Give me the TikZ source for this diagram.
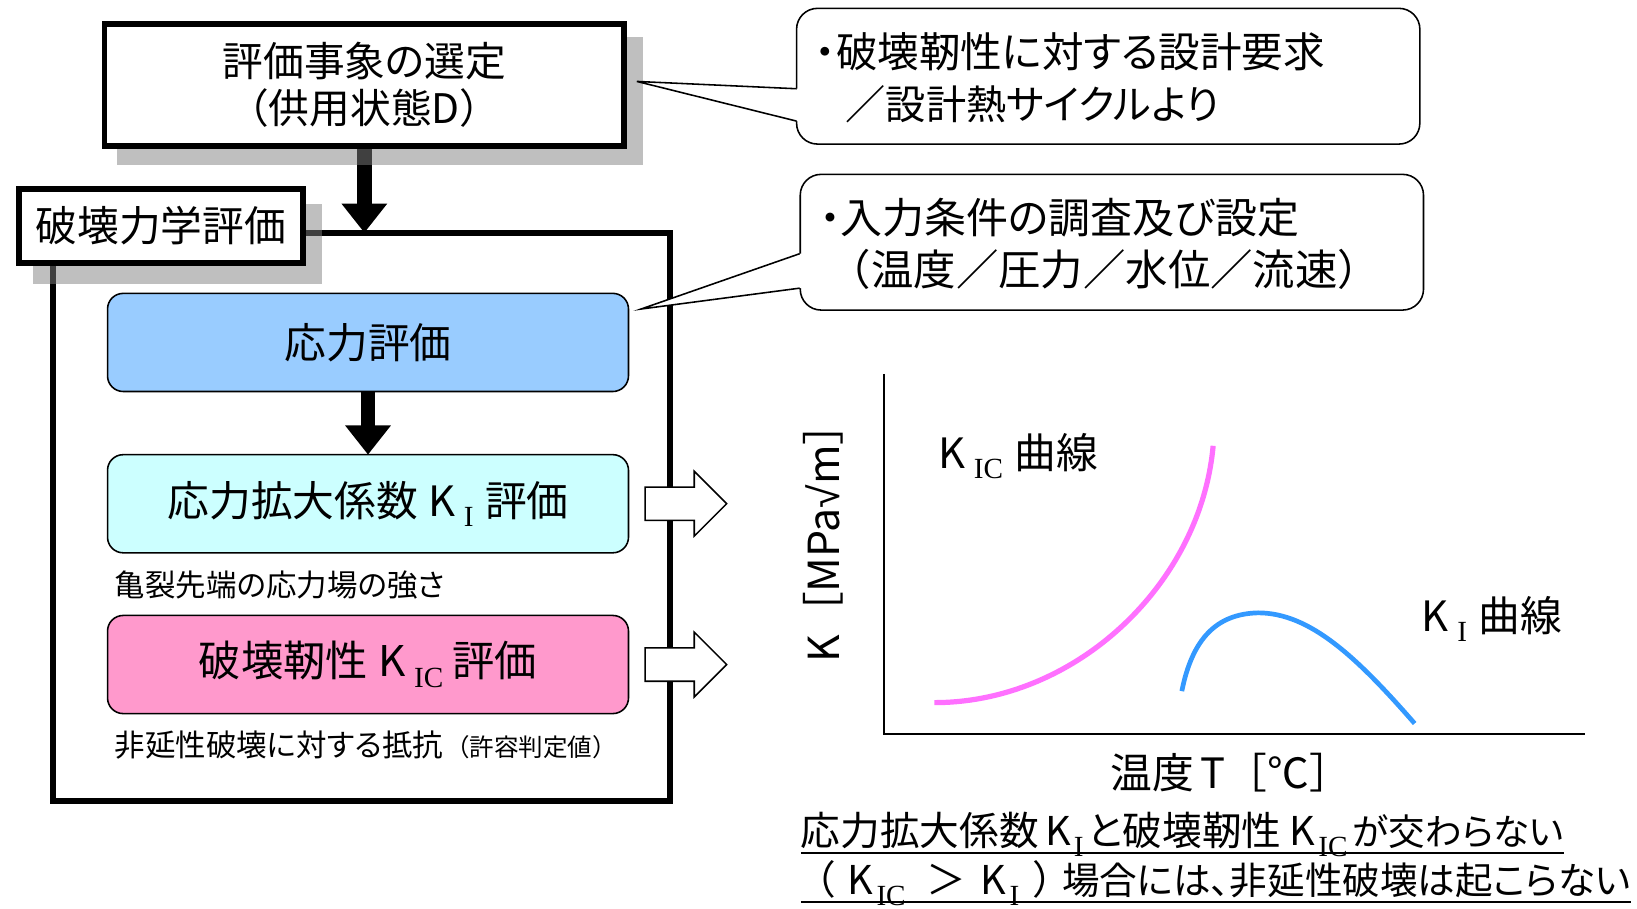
\documentclass[tikz,border=0pt]{standalone}
\usepackage{fontspec}
\setmainfont{Noto Sans CJK JP}[RawFeature=+palt]
\newfontfamily\fw{Noto Sans CJK JP}
\newfontfamily\kfsub{Liberation Serif}
\newfontfamily\lsans{Liberation Sans}
\usetikzlibrary{arrows.meta}
\newcommand\fsz[1]{\fontsize{#1}{#1}\selectfont}
\newcommand\sbs[1]{\raisebox{-10pt}{\kfsub\fontsize{28}{28}\selectfont #1}}
\definecolor{boxblue}{HTML}{99CCFF}
\definecolor{boxcyan}{HTML}{CCFFFF}
\definecolor{boxpink}{HTML}{FF99CC}
\definecolor{curvepink}{HTML}{FF70FF}
\definecolor{curveblue}{HTML}{3399FF}
\begin{document}
\begin{tikzpicture}[x=1pt,y=-1pt,
  every node/.style={inner sep=0pt, outer sep=0pt},
  bigframe/.style={draw, line width=5.5pt},
  sqbox/.style={draw, line width=5.5pt, fill=white},
  rbox/.style={draw, line width=1.5pt, rounded corners=15pt, minimum width=499pt, minimum height=94pt},
  shadowfill/.style={fill=black!50, opacity=0.5},
  callout/.style={draw, line width=1.5pt, rounded corners=20pt, fill=white},
  fatarrow/.style={line width=14pt, -{Triangle[length=28pt,width=42pt]}},
  blockarrow/.style={draw, line width=1.5pt, fill=white, line join=miter},
  axis/.style={line width=2pt},
  txt/.style={anchor=west},
]
\useasboundingbox (0,0) rectangle (1568,870);

% main frame
\node[bigframe, minimum width=591pt, minimum height=544pt] (frame) at (346,495) {};

% anchors for the top box and label box, and the arrow between them
\node[minimum width=498pt, minimum height=117pt] (top) at (349,81.5) {};
\draw[fatarrow] (top.south) -- (frame.north -| top.south);
\node[minimum width=272pt, minimum height=71pt] (lab) at (154,216.5) {};

% shadows (drawn over frame and arrow, under boxes)
\fill[shadowfill] ([shift={(12.25,12.25)}]top.north west) rectangle ([shift={(17.75,17.75)}]top.south east);
\fill[shadowfill] ([shift={(13.25,14.25)}]lab.north west) rectangle ([shift={(18.75,19.75)}]lab.south east);

\node[sqbox, minimum width=498pt, minimum height=117pt, align=center,
      font={\fontsize{39}{45}\selectfont}] (topbox) at (top) {評価事象の選定\\{\fw（供用状態D）}};
\node[sqbox, minimum width=272pt, minimum height=71pt, font=\fsz{40}] (labbox) at (lab) {破壊力学評価};

% inner boxes
\node[rbox, fill=boxblue, font=\fsz{40}] (stress) at (352.5,328) {応力評価};
\node[rbox, fill=boxcyan, font=\fsz{40}] (ki) at (352.5,482.5) {応力拡大係数\hspace{10pt}K\hspace{8pt}\sbs{I}\hspace{11pt}評価};
\node[rbox, fill=boxpink, font=\fsz{40.5}] (kic) at (352.5,636.5) {破壊靭性\hspace{10pt}K\hspace{8pt}\sbs{IC}\hspace{9pt}評価};
\draw[fatarrow] (stress.south) -- (ki.north);

\node[txt, font=\fsz{29.2}] (cap1) at (110,560) {亀裂先端の応力場の強さ};
\node[txt, font=\fsz{29.2}] (cap2) at (110,714) {非延性破壊に対する抵抗\hspace{2pt}{\fw\fsz{23.5}（許容判定値）}};

% block arrows
\draw[blockarrow] ([shift={(16,-16)}]ki.east) -- ++(47,0) -- ++(0,-15) -- ++(31,31) -- ++(-31,31) -- ++(0,-15) -- ++(-47,0) -- cycle;
\draw[blockarrow] ([shift={(16,-16)}]kic.east) -- ++(47,0) -- ++(0,-15) -- ++(31,31) -- ++(-31,31) -- ++(0,-15) -- ++(-47,0) -- cycle;

% callout 1
\node[callout, minimum width=597pt, minimum height=130pt] (c1) at (1061.5,73) {};
\coordinate (t1) at (610,78);
\fill[white] (t1) -- (763,85) -- (766,85) -- (766,116) -- (763,116) -- cycle;
\draw[line width=1.5pt] (763,85) -- (t1) -- (763,116);
\node[txt, font=\fsz{39.8}] (c1a) at (781,50) {・破壊靭性に対する設計要求};
\node[txt, font=\fsz{38.5}] (c1b) at (810,100) {／設計熱サイクルより};

% callout 2
\node[callout, minimum width=597pt, minimum height=130pt] (c2) at (1065,232) {};
\coordinate (t2) at (614,296);
\fill[white] (t2) -- (766,243) -- (769,243) -- (769,276) -- (766,276) -- cycle;
\draw[line width=1.5pt] (766,243) -- (t2) -- (766,276);
\node[txt, font=\fsz{40.2}] (c2a) at (785,208) {・入力条件の調査及び設定};
\node[txt, font=\fsz{40.6}] (c2b) at (794,258) {\fw（温度／圧力／水位／流速）};

% graph
\coordinate (ytop) at (847,358);
\coordinate (origin) at (847,703);
\coordinate (xend) at (1518,703);
\draw[axis] (ytop) -- (origin) -- (xend);
\node[rotate=90, font=\fsz{41}] (ylab) at (789,520) {K\hspace{20pt}［MPa{\lsans √}m］};
\node[txt, font=\fsz{40}] (xlab) at (1064,740) {温度\hspace{6pt}T{\fw［℃］}};
\node[txt, font=\fsz{40}] (kiclab) at (899,437) {K\hspace{8pt}\sbs{IC}\hspace{11pt}曲線};
\node[txt, font=\fsz{40}] (kilab) at (1362,593) {K\hspace{8pt}\sbs{I}\hspace{11pt}曲線};
\draw[curvepink, line width=5pt] (895,673) .. controls (1030,673) and (1150,560) .. (1162,427);
\draw[curveblue, line width=4.5pt] (1132,662) .. controls (1142,612) and (1165,588) .. (1205,587)
   .. controls (1255,587) and (1300,630) .. (1355,693);

% conclusion
\node[anchor=base west, font=\fsz{38}] (con1) at (767,810) {応力拡大係数\hspace{6pt}K\hspace{3pt}\sbs{I}\hspace{4pt}と破壊靭性\hspace{8pt}K\hspace{3pt}\sbs{IC}\hspace{5pt}{\fsz{35}が交わらない}};
\draw[line width=1.5pt] ([yshift=-7pt]con1.base west) -- ([yshift=-7pt]con1.base east);
\node[anchor=base west, font=\fsz{38}] (con2) at (767,857) {\hspace{14pt}（\hspace{12pt}K\hspace{3pt}\sbs{IC}\hspace{20pt}＞\hspace{14pt}K\hspace{3pt}\sbs{I}\hspace{14pt}）\hspace{8pt}{\fsz{36}場合には、非延性破壊は起こらない}};
\draw[line width=1.5pt] ([yshift=-7pt]con2.base west) -- ([yshift=-7pt]con2.base east);
\end{tikzpicture}
\end{document}
